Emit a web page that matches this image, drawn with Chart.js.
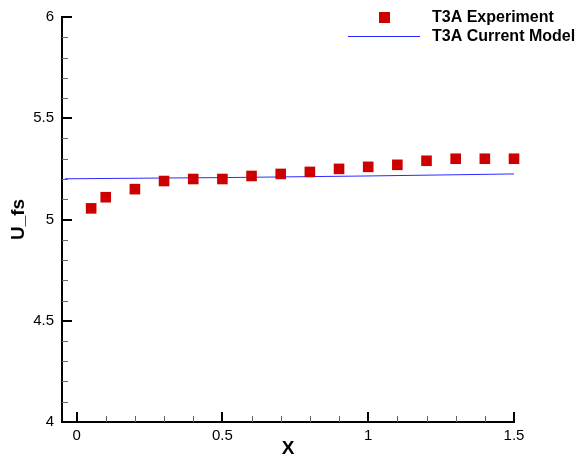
<!DOCTYPE html>
<html>
<head>
<meta charset="utf-8">
<script src="https://cdn.jsdelivr.net/npm/chart.js@4/dist/chart.umd.min.js"></script>
<style>
  html, body { margin: 0; padding: 0; background: #fff; }
  canvas { display: block; }
</style>
</head>
<body>
<canvas id="chart" width="577" height="464"></canvas>
<script>
// T3A free-stream velocity
const expX = [0.05, 0.1, 0.2, 0.3, 0.4, 0.5, 0.6, 0.7, 0.8, 0.9, 1.0, 1.1, 1.2, 1.3, 1.4, 1.5];
const expY = [5.055, 5.11, 5.15, 5.19, 5.20, 5.20, 5.215, 5.225, 5.235, 5.25, 5.26, 5.27, 5.29, 5.30, 5.30, 5.30];
const modelX = [-0.04, 0.5, 1.0, 1.5];
const modelY = [5.201, 5.207, 5.215, 5.225];
const xTicks = [0, 0.5, 1, 1.5];
const yTicks = [4, 4.5, 5, 5.5, 6];
const seriesNames = ['T3A Experiment', 'T3A Current Model'];

const FONT = "'Liberation Sans', Arial, sans-serif";
const RED = '#cc0000';
const BLUE = '#2a2aff';

const toPoints = (xs, ys) => xs.map((x, i) => ({ x: x, y: ys[i] }));

// tecplot style ticks: pointing into the plot, 4 minor between majors
const inwardTicks = {
    id: 'inwardTicks',
    afterDraw(chart) {
        const ctx = chart.ctx;
        const xs = chart.scales.x;
        const ys = chart.scales.y;
        const area = chart.chartArea;
        ctx.save();
        const draw = (vals, len, width, color, horizontal) => {
            ctx.strokeStyle = color;
            ctx.lineWidth = width;
            vals.forEach(v => {
                ctx.beginPath();
                if (horizontal) {
                    const px = Math.round(xs.getPixelForValue(v)) + (width % 2 ? 0.5 : 0);
                    ctx.moveTo(px, area.bottom);
                    ctx.lineTo(px, area.bottom - len);
                } else {
                    const py = Math.round(ys.getPixelForValue(v)) + (width % 2 ? 0.5 : 0);
                    ctx.moveTo(area.left, py);
                    ctx.lineTo(area.left + len, py);
                }
                ctx.stroke();
            });
        };
        const minors = ticks => {
            const out = [];
            for (let i = 0; i < ticks.length - 1; i++) {
                const step = (ticks[i + 1] - ticks[i]) / 5;
                for (let k = 1; k < 5; k++) out.push(ticks[i] + step * k);
            }
            return out;
        };
        draw(minors(xTicks), 6, 1, '#666', true);
        draw(minors(yTicks), 6, 1, '#666', false);
        draw(xTicks, 10, 2, '#000', true);
        draw(yTicks, 10, 2, '#000', false);
        ctx.restore();
    }
};

// legend box in the top right corner, inside the plot
const cornerLegend = {
    id: 'cornerLegend',
    afterDraw(chart) {
        const ctx = chart.ctx;
        ctx.save();
        ctx.fillStyle = RED;
        ctx.fillRect(379, 12, 11, 11);
        ctx.strokeStyle = BLUE;
        ctx.lineWidth = 1;
        ctx.beginPath();
        ctx.moveTo(348, 36.5);
        ctx.lineTo(420, 36.5);
        ctx.stroke();
        ctx.fillStyle = '#000';
        ctx.font = 'bold 16px ' + FONT;
        ctx.textBaseline = 'middle';
        ctx.textAlign = 'left';
        ctx.fillText(seriesNames[0], 432, 17.5);
        ctx.fillText(seriesNames[1], 432, 36.5);
        ctx.restore();
    }
};

new Chart(document.getElementById('chart'), {
    type: 'scatter',
    data: {
        datasets: [
            {
                label: seriesNames[0],
                data: toPoints(expX, expY),
                pointStyle: 'rect',
                pointRadius: 7.5,
                pointBorderWidth: 0,
                backgroundColor: RED,
                borderColor: RED,
                clip: false
            },
            {
                label: seriesNames[1],
                data: toPoints(modelX, modelY),
                showLine: true,
                pointRadius: 0,
                borderColor: BLUE,
                borderWidth: 1
            }
        ]
    },
    options: {
        responsive: false,
        animation: false,
        layout: { padding: { top: 14, right: 63, left: 0, bottom: 0 } },
        plugins: {
            legend: { display: false },
            tooltip: { enabled: false }
        },
        scales: {
            x: {
                type: 'linear',
                min: -0.05,
                max: 1.5,
                grid: { display: false, drawTicks: false },
                border: { color: '#000', width: 2 },
                afterBuildTicks: s => { s.ticks = xTicks.map(v => ({ value: v })); },
                afterFit: s => { s.height = 42; },
                ticks: {
                    color: '#000',
                    padding: 5,
                    maxRotation: 0,
                    font: { family: FONT, size: 15 },
                    callback: v => String(v)
                },
                title: {
                    display: true,
                    text: 'X',
                    color: '#000',
                    font: { family: FONT, size: 19, weight: 'bold' },
                    padding: { top: 0, bottom: 4 }
                }
            },
            y: {
                type: 'linear',
                min: 4,
                max: 6,
                grid: { display: false, drawTicks: false },
                border: { color: '#000', width: 2 },
                afterBuildTicks: s => { s.ticks = yTicks.map(v => ({ value: v })); },
                afterFit: s => { s.width = 62; },
                ticks: {
                    color: '#000',
                    padding: 8,
                    font: { family: FONT, size: 15 },
                    callback: v => String(v)
                },
                title: {
                    display: true,
                    text: 'U_fs',
                    color: '#000',
                    font: { family: FONT, size: 19, weight: 'bold' },
                    padding: { top: 7, bottom: 0 }
                }
            }
        }
    },
    plugins: [inwardTicks, cornerLegend]
});
</script>
</body>
</html>
